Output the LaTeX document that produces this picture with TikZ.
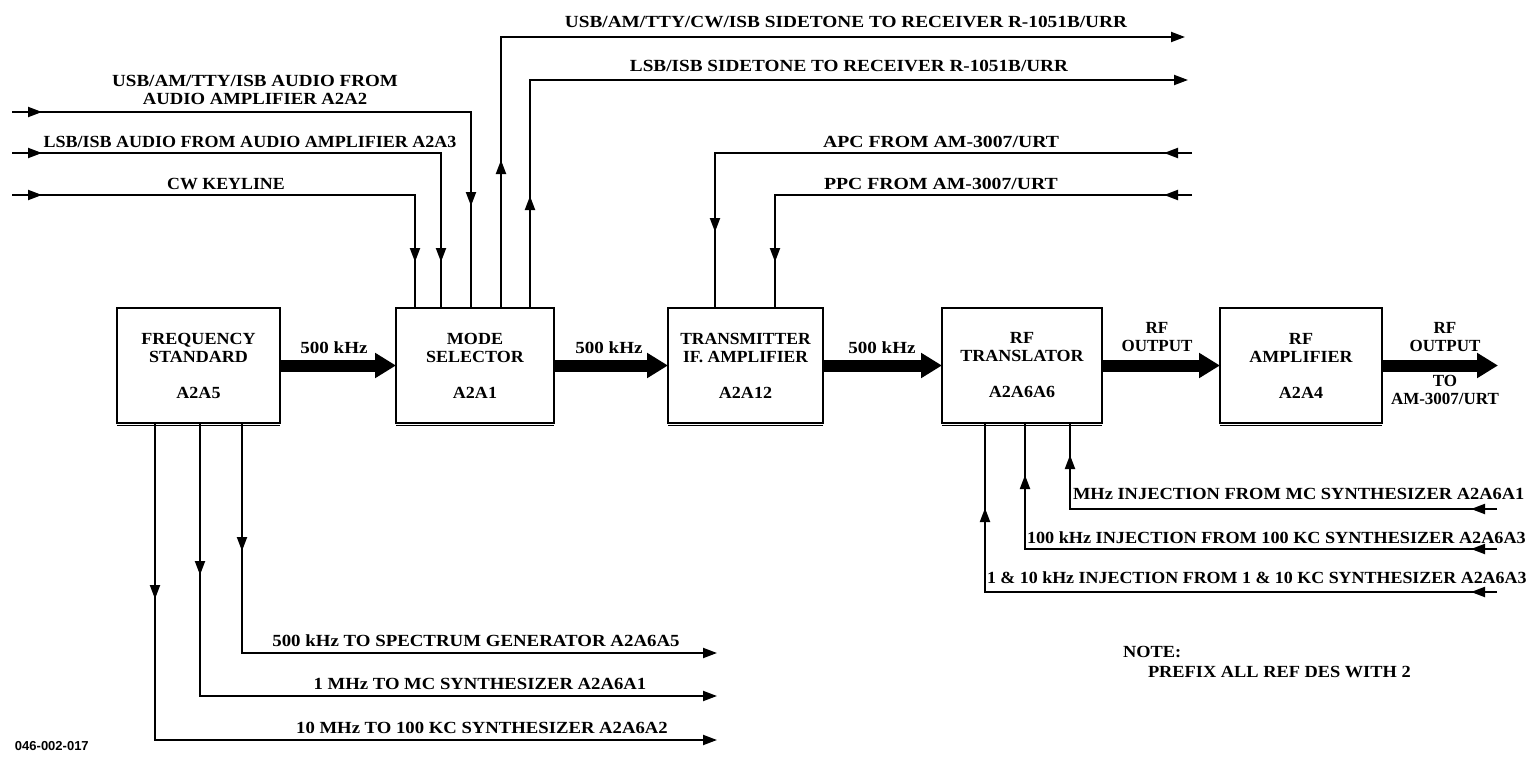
\documentclass[tikz,border=0pt]{standalone}
\usepackage{fontspec}
\usepackage{graphicx}
\setmainfont{Liberation Serif}
\setsansfont{Liberation Sans}
\usetikzlibrary{arrows.meta,decorations.markings}
\newcommand{\hstr}[2]{\scalebox{#1}[1]{#2}}
\begin{document}
\begin{tikzpicture}[x=0.5pt,y=-0.5pt,
  every node/.style={font=\fontsize{8.5}{9}\selectfont\bfseries, inner sep=0pt, outer sep=0pt},
  block/.style={draw, line width=1.2pt, align=center, minimum height=57.5pt},
  boxbase/.style={line width=0.8pt},
  sig/.style={line width=1pt},
  tipend/.style={-{Triangle[length=7pt,width=5pt]}},
  arrowat/.style={postaction={decorate,decoration={markings,mark=at position #1 with {\arrow{Triangle[length=7pt,width=5pt]}}}}},
  bigarrow/.style={line width=6pt,-{Triangle[length=10.5pt,width=12pt]}},
  twoline/.style={align=center}
]
\useasboundingbox (0,0) rectangle (1539,760);

% blocks
\node[block, minimum width=81.5pt] (FS) at (198.5,365.5) {\hstr{1.06}{FREQUENCY}\\\hstr{1.06}{STANDARD}\\[9pt]\hstr{1.06}{A2A5}};
\node[block, minimum width=79pt]   (MS) at (475,365.5)   {\hstr{1.06}{MODE}\\\hstr{1.06}{SELECTOR}\\[9pt]\hstr{1.06}{A2A1}};
\node[block, minimum width=77.5pt] (TX) at (745.5,365.5) {\hstr{1.03}{TRANSMITTER}\\\hstr{1.03}{IF. AMPLIFIER}\\[9pt]\hstr{1.06}{A2A12}};
\node[block, minimum width=80pt]   (RT) at (1022,365.5)  {\hstr{1.06}{RF}\\\hstr{1.06}{TRANSLATOR}\\[9pt]\hstr{1.06}{A2A6A6}};
\node[block, minimum width=81pt]   (RA) at (1301,365.5)  {\hstr{1.06}{RF}\\\hstr{1.06}{AMPLIFIER}\\[9pt]\hstr{1.06}{A2A4}};
\foreach \b in {FS,MS,TX,RT,RA}
  \draw[boxbase] ([yshift=-1.3pt]\b.south west) -- ([yshift=-1.3pt]\b.south east);
\coordinate (rfout) at (1498,365.5);

% main chain
\draw[bigarrow] (FS) -- (MS);
\draw[bigarrow] (MS) -- (TX);
\draw[bigarrow] (TX) -- (RT);
\draw[bigarrow] (RT) -- (RA);
\draw[bigarrow] (RA) -- (rfout);

\node at (334,348) {\hstr{1.12}{500 kHz}};
\node at (609,348) {\hstr{1.12}{500 kHz}};
\node at (882,348) {\hstr{1.12}{500 kHz}};
\node[twoline] at (1157,337.5) {RF\\OUTPUT};
\node[twoline] at (1445,337.5) {RF\\OUTPUT};
\node[twoline] at (1445,390) {TO\\AM-3007/URT};

% tap coordinates
\coordinate (inA) at (12,112);
\coordinate (inB) at (12,153);
\coordinate (inC) at (12,195);
\coordinate (ms1) at (415,308);
\coordinate (ms2) at (441,308);
\coordinate (ms3) at (471,308);
\coordinate (ms4) at (501,308);
\coordinate (ms5) at (530,308);
\coordinate (stA) at (1185,37);
\coordinate (stB) at (1188,80);
\coordinate (apc) at (1192,153);
\coordinate (ppc) at (1192,195);
\coordinate (tx1) at (715,308);
\coordinate (tx2) at (775,308);
\coordinate (rt1) at (985,423);
\coordinate (rt2) at (1025,423);
\coordinate (rt3) at (1070,423);
\coordinate (injA) at (1497,509);
\coordinate (injB) at (1497,549);
\coordinate (injC) at (1497,592);
\coordinate (fs1) at (155,423);
\coordinate (fs2) at (200,423);
\coordinate (fs3) at (242,423);
\coordinate (outA) at (717,653);
\coordinate (outB) at (717,696);
\coordinate (outC) at (717,740);

% inputs to mode selector
\draw[sig,arrowat=15pt,arrowat=-51pt] (inA) -| (ms3);
\draw[sig,arrowat=15pt,arrowat=-23pt] (inB) -| (ms2);
\draw[sig,arrowat=15pt,arrowat=-23pt] (inC) -| (ms1);
\node[twoline] at (255,90) {\hstr{1.12}{USB/AM/TTY/ISB AUDIO FROM}\\\hstr{1.10}{AUDIO AMPLIFIER A2A2}};
\node at (250,142) {\hstr{1.06}{LSB/ISB AUDIO FROM AUDIO AMPLIFIER A2A3}};
\node at (226,184) {\hstr{1.05}{CW KEYLINE}};

% sidetone outputs
\draw[sig,tipend,arrowat=74pt] (ms4) |- (stA);
\draw[sig,tipend,arrowat=56pt] (ms5) |- (stB);
\node at (846,22) {\hstr{1.135}{USB/AM/TTY/CW/ISB SIDETONE TO RECEIVER R-1051B/URR}};
\node at (849,66) {\hstr{1.13}{LSB/ISB SIDETONE TO RECEIVER R-1051B/URR}};

% APC / PPC
\draw[sig,arrowat=14pt,arrowat=-38pt] (apc) -| (tx1);
\draw[sig,arrowat=14pt,arrowat=-23pt] (ppc) -| (tx2);
\node at (941,142) {\hstr{1.16}{APC FROM AM-3007/URT}};
\node at (941,184) {\hstr{1.16}{PPC FROM AM-3007/URT}};

% injections
\draw[sig,arrowat=13pt,arrowat=-16pt] (injA) -| (rt3);
\draw[sig,arrowat=13pt,arrowat=-26pt] (injB) -| (rt2);
\draw[sig,arrowat=13pt,arrowat=-42.5pt] (injC) -| (rt1);
\node[anchor=west] at (1073,494) {\hstr{1.085}{MHz INJECTION FROM MC SYNTHESIZER A2A6A1}};
\node[anchor=west] at (1027,538) {\hstr{1.07}{100 kHz INJECTION FROM 100 KC SYNTHESIZER A2A6A3}};
\node[anchor=west] at (987,578) {\hstr{1.055}{1 \& 10 kHz INJECTION FROM 1 \& 10 KC SYNTHESIZER A2A6A3}};

% frequency standard outputs
\draw[sig,tipend,arrowat=64pt] (fs3) |- (outA);
\draw[sig,tipend,arrowat=76pt] (fs2) |- (outB);
\draw[sig,tipend,arrowat=88pt] (fs1) |- (outC);
\node at (476,641) {\hstr{1.11}{500 kHz TO SPECTRUM GENERATOR A2A6A5}};
\node at (480,684) {\hstr{1.10}{1 MHz TO MC SYNTHESIZER A2A6A1}};
\node at (482,728) {\hstr{1.10}{10 MHz TO 100 KC SYNTHESIZER A2A6A2}};

% notes
\node[anchor=west] at (1123,652) {\hstr{1.08}{NOTE:}};
\node[anchor=west] at (1148,672) {\hstr{1.08}{PREFIX ALL REF DES WITH 2}};
\node[anchor=west,font=\sffamily\bfseries\fontsize{6.5}{7}\selectfont] at (15,746) {046-002-017};
\end{tikzpicture}
\end{document}
